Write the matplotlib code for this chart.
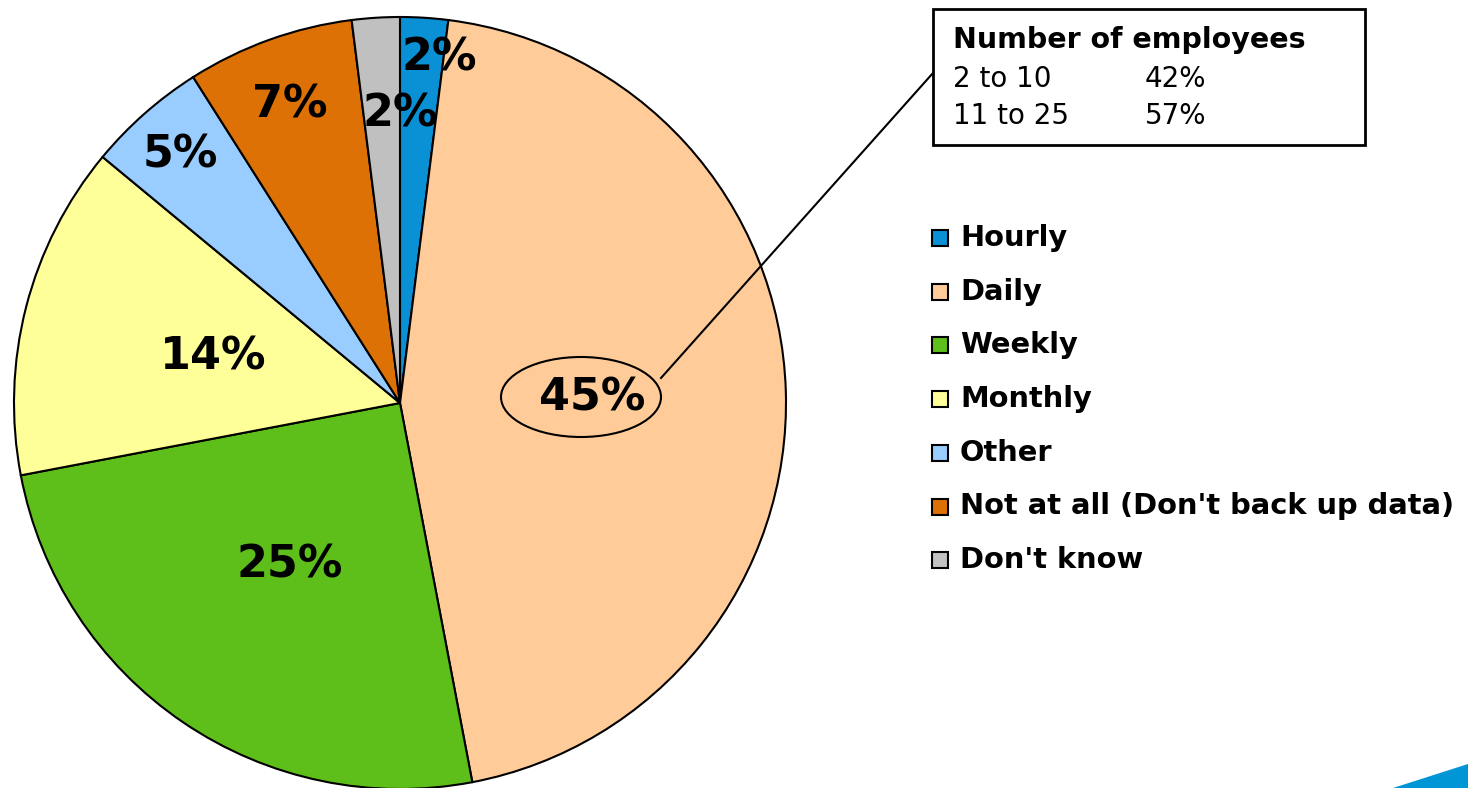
import matplotlib
matplotlib.use("Agg")
import matplotlib.pyplot as plt
from matplotlib.patches import Rectangle, Ellipse, Polygon

categories = ["Hourly", "Daily", "Weekly", "Monthly", "Other",
              "Not at all (Don't back up data)", "Don't know"]
shares = [2, 45, 25, 14, 5, 7, 2]
colors = ["#0A91D5", "#FFCC99", "#5FBF1A", "#FFFF99", "#99CCFF", "#DD7106", "#C0C0C0"]

# where each percentage label sits (pixel coords, from top-left)
label_pos = [(439, 58), (592, 398), (290, 565), (213, 357), (180, 155), (290, 105), (400, 114)]

box_title = "Number of employees"
size_groups = ["2 to 10", "11 to 25"]
size_shares = [42, 57]

W, H = 1468, 788
fig = plt.figure(figsize=(W / 100, H / 100), dpi=100)
ax = fig.add_axes([0, 0, 1, 1])

def py(y):
    # pixel y (from top) -> data y
    return H - y

# pie
ax.pie(shares, colors=colors, startangle=90, counterclock=False,
       center=(400, py(403)), radius=386,
       wedgeprops=dict(edgecolor="black", linewidth=1.5))
ax.set_xlim(0, W)
ax.set_ylim(0, H)
ax.set_aspect("equal")
ax.axis("off")

for val, (x, y) in zip(shares, label_pos):
    ax.text(x, py(y), f"{val}%", fontsize=32, fontweight="bold",
            ha="center", va="center", color="black")

# highlight on the Daily slice + leader line to the box
ax.add_patch(Ellipse((581, py(397)), 160, 80, fill=False, edgecolor="black", lw=1.5))
ax.plot([661, 933], [py(378), py(73)], color="black", lw=1.5)

# employees box
ax.add_patch(Rectangle((933, py(145)), 432, 136, fill=False, edgecolor="black", lw=2))
ax.text(953, py(40), box_title, fontsize=20.5, fontweight="bold", ha="left", va="center")
for i, (g, s) in enumerate(zip(size_groups, size_shares)):
    yy = py(79 + i * 37)
    ax.text(953, yy, g, fontsize=20, ha="left", va="center")
    ax.text(1145, yy, f"{s}%", fontsize=20, ha="left", va="center")

# legend
for i, (cat, col) in enumerate(zip(categories, colors)):
    yc = 238 + i * 53.7
    ax.add_patch(Rectangle((932, py(yc + 8)), 16, 16, facecolor=col,
                           edgecolor="black", lw=1.5))
    ax.text(960, py(yc), cat, fontsize=20.8, fontweight="bold", ha="left", va="center")

# corner decoration
ax.add_patch(Polygon([(1393, py(788)), (W, py(764)), (W, py(788))],
                     closed=True, facecolor="#0096D6", edgecolor="none"))

fig.savefig("out.png", dpi=100)
